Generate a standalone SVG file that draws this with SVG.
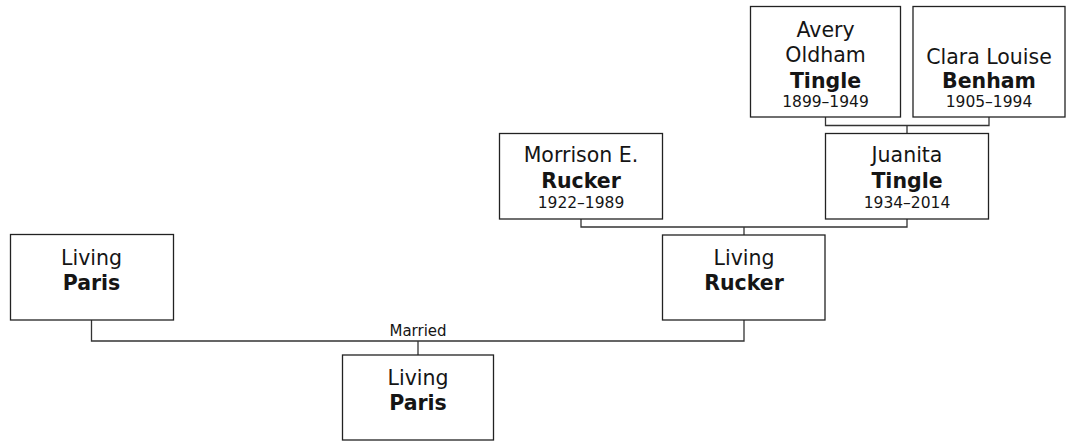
<svg xmlns="http://www.w3.org/2000/svg" width="1066" height="441" viewBox="0 0 1066 441">
<style>
.box{fill:#fff;stroke:#222;stroke-width:1.3}
.ln{fill:none;stroke:#333;stroke-width:1.3}
text{font-family:"DejaVu Sans",Verdana,sans-serif;fill:#151515;text-anchor:middle}
.n{font-size:20.5px}
.b{font-size:20.5px;font-weight:bold}
.d{font-size:15.5px}
.m{font-size:15px}
</style>
<rect width="1066" height="441" fill="#fff"/>
<g id="connectors">
<polyline class="ln" points="825.5,117 825.5,125.5 989,125.5 989,117"/>
<line class="ln" x1="907" y1="125.5" x2="907" y2="133.5"/>
<polyline class="ln" points="581,219 581,227 907,227 907,219"/>
<line class="ln" x1="744" y1="227" x2="744" y2="235"/>
<polyline class="ln" points="91.5,320 91.5,341 744,341 744,320"/>
<line class="ln" x1="418" y1="341" x2="418" y2="355"/>
<text class="m" x="418" y="336">Married</text>
</g>
<g id="avery">
<rect class="box" x="750.5" y="6.5" width="150" height="110.5"/>
<text class="n" x="825.5" y="36.5">Avery</text>
<text class="n" x="825.5" y="61.5">Oldham</text>
<text class="b" x="825.5" y="87.5">Tingle</text>
<text class="d" x="825.5" y="107">1899–1949</text>
</g>
<g id="clara">
<rect class="box" x="913" y="6.5" width="152" height="110.5"/>
<text class="n" x="989" y="63.5">Clara Louise</text>
<text class="b" x="989" y="87.5">Benham</text>
<text class="d" x="989" y="107">1905–1994</text>
</g>
<g id="juanita">
<rect class="box" x="825.5" y="133.5" width="163" height="85.5"/>
<text class="n" x="907" y="162">Juanita</text>
<text class="b" x="907" y="187.5">Tingle</text>
<text class="d" x="907" y="208">1934–2014</text>
</g>
<g id="morrison">
<rect class="box" x="499.5" y="133.5" width="163" height="85.5"/>
<text class="n" x="581" y="162">Morrison E.</text>
<text class="b" x="581" y="187.5">Rucker</text>
<text class="d" x="581" y="208">1922–1989</text>
</g>
<g id="living-rucker">
<rect class="box" x="662.5" y="235" width="162.5" height="85"/>
<text class="n" x="744" y="265">Living</text>
<text class="b" x="744" y="290">Rucker</text>
</g>
<g id="living-paris-parent">
<rect class="box" x="10.5" y="234.5" width="163" height="85.5"/>
<text class="n" x="91.5" y="265">Living</text>
<text class="b" x="91.5" y="290">Paris</text>
</g>
<g id="living-paris-child">
<rect class="box" x="342.5" y="355" width="151" height="85"/>
<text class="n" x="418" y="384.5">Living</text>
<text class="b" x="418" y="410">Paris</text>
</g>
</svg>
